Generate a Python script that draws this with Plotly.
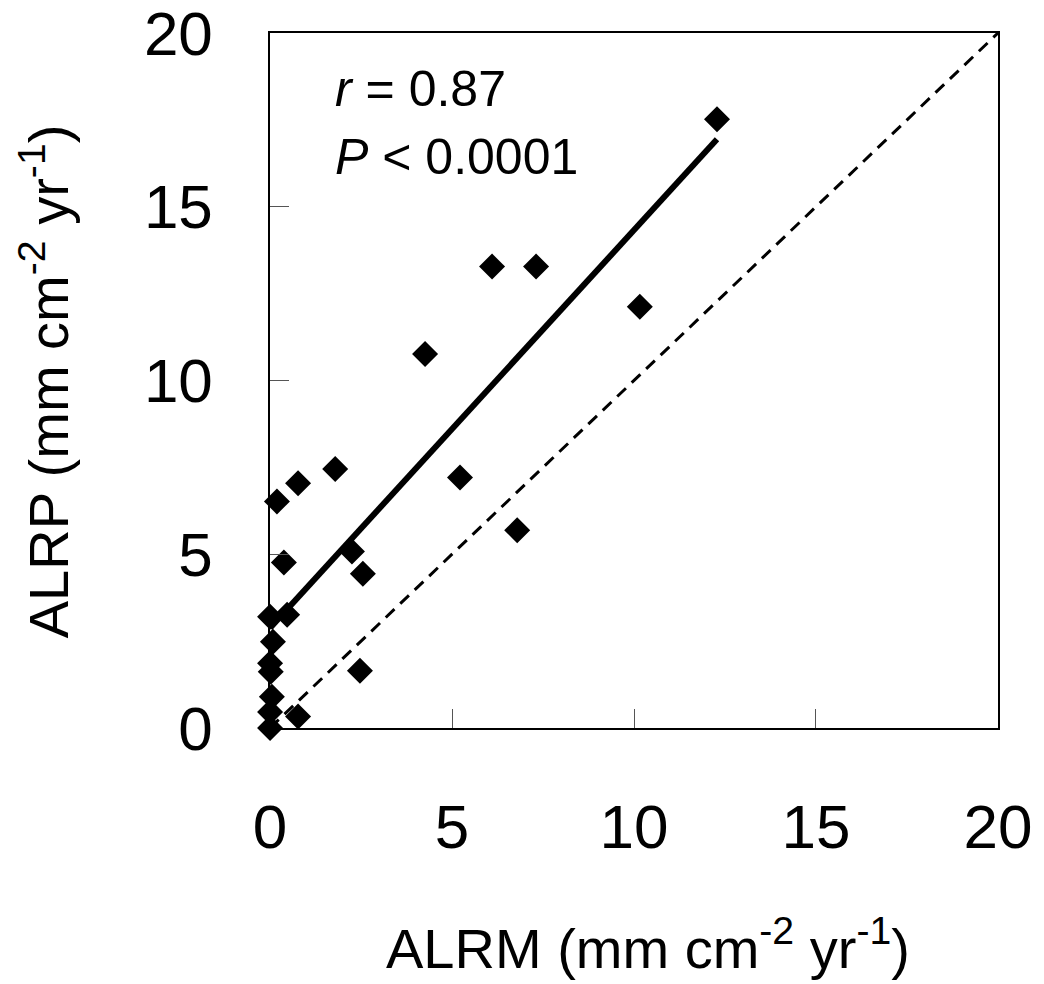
import plotly.graph_objects as go

# Data
alrm = [12.28, 6.10, 7.31, 10.16, 4.26, 1.79, 0.77, 0.19, 5.22, 6.79, 2.25, 2.55,
        0.38, 2.47, 0.00, 0.47, 0.08, 0.00, 0.02, 0.05, 0.00, 0.77, 0.00]
alrp = [17.52, 13.28, 13.28, 12.12, 10.76, 7.45, 7.04, 6.52, 7.21, 5.69, 5.08, 4.44,
        4.76, 1.65, 3.20, 3.26, 2.48, 1.86, 1.62, 0.90, 0.46, 0.33, 0.00]
fit_intercept = 2.88
fit_slope = 1.145
one_to_one = [0, 20]
tick_vals = [0, 5, 10, 15, 20]
tick_text = ["0", "5", "10", "15", "20"]

FONT = "Liberation Sans, Arial, sans-serif"

fit_x = [0, max(alrm)]
fit_y = [fit_intercept + fit_slope * v for v in fit_x]

fig = go.Figure()
fig.add_trace(go.Scatter(x=one_to_one, y=one_to_one, mode="lines",
                         line=dict(color="black", width=3, dash="12px,8px"),
                         showlegend=False, hoverinfo="skip"))
fig.add_trace(go.Scatter(x=fit_x, y=fit_y, mode="lines",
                         line=dict(color="black", width=6),
                         showlegend=False, hoverinfo="skip"))
fig.add_trace(go.Scatter(x=alrm, y=alrp, mode="markers",
                         marker=dict(symbol="diamond", size=20, color="black",
                                     line=dict(width=0)),
                         cliponaxis=False, showlegend=False))

axis_common = dict(tickvals=tick_vals, ticktext=tick_text,
                   ticks="inside", ticklen=19, tickwidth=1, tickcolor="#555",
                   showline=True, linecolor="black", linewidth=1.5, mirror=True,
                   showgrid=False, zeroline=False, ticklabeloverflow="allow",
                   automargin=False,
                   tickfont=dict(family=FONT, size=62, color="black"))

fig.update_xaxes(**axis_common, range=[-0.001, 20.001], ticklabelstandoff=44)
fig.update_yaxes(**axis_common, range=[-0.001, 20.001], ticklabelstandoff=43)

fig.update_layout(
    width=1044, height=984,
    margin=dict(l=270, r=46, t=33, b=256, autoexpand=False),
    plot_bgcolor="white", paper_bgcolor="white",
    font=dict(family=FONT, color="black"),
    annotations=[
        dict(x=1.73, y=18.38, xref="x", yref="y", text="<i>r</i> = 0.87",
             showarrow=False, xanchor="left", yanchor="middle",
             font=dict(family=FONT, size=50)),
        dict(x=1.73, y=16.42, xref="x", yref="y", text="<i>P</i> < 0.0001",
             showarrow=False, xanchor="left", yanchor="middle",
             font=dict(family=FONT, size=50)),
        dict(x=0.519, y=-0.312, xref="paper", yref="paper",
             text="ALRM (mm cm<sup>-2</sup> yr<sup>-1</sup>)",
             showarrow=False, xanchor="center", yanchor="middle",
             font=dict(family=FONT, size=56)),
        dict(x=-0.309, y=0.499, xref="paper", yref="paper",
             text="ALRP (mm cm<sup>-2</sup> yr<sup>-1</sup>)", textangle=-90,
             showarrow=False, xanchor="center", yanchor="middle",
             font=dict(family=FONT, size=56)),
    ],
)

fig.write_html("out.html")
